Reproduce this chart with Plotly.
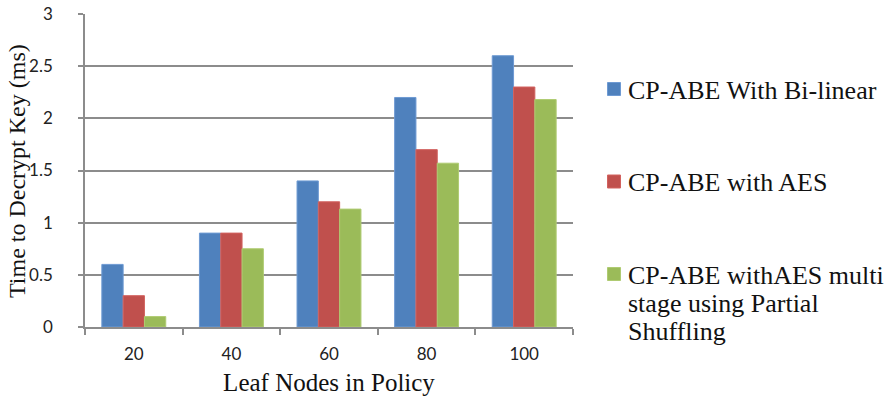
import plotly.graph_objects as go

# Leaf-node counts in the access policy (x categories)
leaf_nodes = ["20", "40", "60", "80", "100"]

# Decryption-key time in ms for each scheme
bilinear = [0.6, 0.9, 1.4, 2.2, 2.6]
aes = [0.3, 0.9, 1.2, 1.7, 2.3]
aes_multistage = [0.1, 0.75, 1.13, 1.57, 2.18]

# Legend labels, one list entry per text line
series_labels = [
    ["CP-ABE With Bi-linear"],
    ["CP-ABE with AES"],
    ["CP-ABE withAES multi", "stage using Partial", "Shuffling"],
]
fill_colors = ["#4F81BD", "#C0504D", "#9BBB59"]
edge_colors = ["#6E9AD3", "#D2625F", "#AFCB72"]

y_ticks = [0, 0.5, 1, 1.5, 2, 2.5, 3]
y_tick_text = ["0", "0.5", "1", "1.5", "2", "2.5", "3"]

W, H = 884, 403
ML, MR, MT, MB = 85, 311, 14, 76
PW, PH = W - ML - MR, H - MT - MB


def px_to_paper_x(px):
    return (px - ML) / PW


def px_to_paper_y(py):
    return (H - MB - py) / PH


serif = "Liberation Serif, Times New Roman, serif"
sans = "Lato, Carlito, sans-serif"

fig = go.Figure()
for i, vals in enumerate([bilinear, aes, aes_multistage]):
    fig.add_trace(go.Bar(
        x=leaf_nodes, y=vals, name=" ".join(series_labels[i]),
        marker=dict(color=fill_colors[i], line=dict(color=edge_colors[i], width=1)),
        showlegend=False,
    ))

# Side legend: swatch + serif label lines
legend_swatch_x = 614
legend_text_x = 626
legend_item_y = [89, 181.5, 274]
line_pitch = 28
for i, lines in enumerate(series_labels):
    cy = legend_item_y[i]
    fig.add_shape(
        type="rect", xref="paper", yref="paper",
        xsizemode="pixel", ysizemode="pixel",
        xanchor=px_to_paper_x(legend_swatch_x), yanchor=px_to_paper_y(cy),
        x0=-6.5, x1=6.5, y0=-6.5, y1=6.5,
        fillcolor=fill_colors[i], line=dict(color=edge_colors[i], width=1),
    )
    for j, line in enumerate(lines):
        fig.add_annotation(
            xref="paper", yref="paper",
            x=px_to_paper_x(legend_text_x), y=px_to_paper_y(cy + j * line_pitch + 1),
            xanchor="left", yanchor="middle", showarrow=False,
            text=line, font=dict(family=serif, size=26, color="#111"),
        )

# Vertical axis title, placed beside the tick labels
fig.add_annotation(
    xref="paper", yref="paper",
    x=px_to_paper_x(17), y=px_to_paper_y(171),
    xanchor="center", yanchor="middle", showarrow=False, textangle=-90,
    text="Time to Decrypt Key (ms)", font=dict(family=serif, size=24, color="#111"),
)

fig.update_layout(
    width=W, height=H,
    margin=dict(l=ML, r=MR, t=MT, b=MB, autoexpand=False),
    paper_bgcolor="white", plot_bgcolor="white",
    font=dict(family=serif, size=20, color="#111"),
    barmode="group", bargap=0.345, bargroupgap=0,
    showlegend=False,
    xaxis=dict(
        type="category", tickson="boundaries", automargin=False,
        showline=True, linecolor="#8c8c8c", linewidth=1.5,
        ticks="outside", ticklen=6, tickcolor="#8c8c8c", tickwidth=1.5,
        tickfont=dict(family=sans, size=17, color="#222"),
        ticklabelstandoff=11,
        title=dict(text="Leaf Nodes in Policy", font=dict(family=serif, size=25, color="#111"), standoff=10),
        showgrid=False,
    ),
    yaxis=dict(
        range=[0, 3], tickvals=y_ticks, ticktext=y_tick_text, automargin=False,
        showline=True, linecolor="#8c8c8c", linewidth=1.5,
        ticks="outside", ticklen=5, tickcolor="#8c8c8c", tickwidth=1.5,
        ticklabelstandoff=22,
        showgrid=True, gridcolor="#8c8c8c", gridwidth=1.5,
        zeroline=False,
        tickfont=dict(family=sans, size=17, color="#222"),
    ),
)

fig.write_html("out.html")
